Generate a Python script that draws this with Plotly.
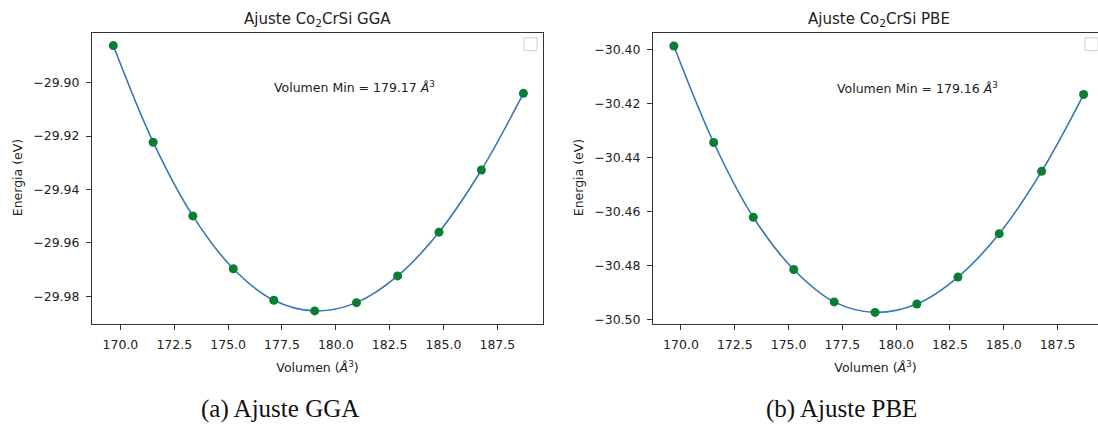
import plotly.graph_objects as go

# ---- data ----
volumen = [169.67, 171.52, 173.36, 175.24, 177.12, 179.02, 180.96, 182.87, 184.79, 186.76, 188.71]
energia_gga = [-29.8861, -29.9223, -29.9499, -29.9697, -29.9815, -29.9855, -29.9824, -29.9724, -29.9560, -29.9327, -29.9040]
energia_pbe = [-30.3986, -30.4344, -30.4621, -30.4815, -30.4935, -30.4974, -30.4943, -30.4843, -30.4682, -30.4451, -30.4166]

titulos = ["Ajuste Co<sub>2</sub>CrSi GGA", "Ajuste Co<sub>2</sub>CrSi PBE"]
anotaciones = ["Volumen Min = 179.17 <i>Å</i><sup>3</sup>", "Volumen Min = 179.16 <i>Å</i><sup>3</sup>"]
captions = ["(a) Ajuste GGA", "(b) Ajuste PBE"]
xlabel = "Volumen (<i>Å</i><sup>3</sup>)"
ylabel = "Energia (eV)"

W, H = 1098, 428
def px(x): return x / W
def py(y): return 1 - y / H

LINE = "#3478b4"
DOT = "#0a7e32"
AX = "#333333"
FONT = "DejaVu Sans"

fig = go.Figure()
for i, (ys, xa, ya) in enumerate([(energia_gga, "x", "y"), (energia_pbe, "x2", "y2")]):
    fig.add_trace(go.Scatter(x=volumen, y=ys, mode="lines", xaxis=xa, yaxis=ya,
                             line=dict(color=LINE, width=1.6, shape="spline", smoothing=1.0),
                             showlegend=False, hoverinfo="skip"))
    fig.add_trace(go.Scatter(x=volumen, y=ys, mode="markers", xaxis=xa, yaxis=ya,
                             marker=dict(color=DOT, size=9), showlegend=False))

common_x = dict(showline=True, linecolor=AX, linewidth=1, mirror=True, ticks="outside",
                ticklen=5, tickcolor=AX, showgrid=False, zeroline=False, dtick=2.5, tick0=170,
                tickformat=".1f", tickfont=dict(family=FONT, size=12.5, color="#222"),
                ticklabelstandoff=4,
                title=dict(text=xlabel, font=dict(family=FONT, size=12.5, color="#222"), standoff=12))
common_y = dict(showline=True, linecolor=AX, linewidth=1, ticks="outside", ticklen=5,
                tickcolor=AX, showgrid=False, zeroline=False, dtick=0.02, tick0=0,
                tickformat=".2f", tickfont=dict(family=FONT, size=12.5, color="#222"),
                ticklabelstandoff=4)

y_dom = [py(326), py(33)]
fig.update_layout(
    width=W, height=H, autosize=False,
    margin=dict(l=0, r=0, t=0, b=0),
    paper_bgcolor="white", plot_bgcolor="white",
    xaxis=dict(domain=[px(92), px(543)], range=[168.68, 189.62], anchor="y", **common_x),
    yaxis=dict(domain=y_dom, range=[-29.9903, -29.8813], anchor="x", mirror=True, **common_y),
    xaxis2=dict(domain=[px(653), 1.0], range=[168.70, 189.38], anchor="y2", **common_x),
    yaxis2=dict(domain=y_dom, range=[-30.5016, -30.3937], anchor="x2", mirror=False, **common_y),
)

ann = []
# titles
for t, cx in zip(titulos, [317.5, 878.5]):
    ann.append(dict(text=t, x=px(cx), y=py(20), xref="paper", yref="paper", showarrow=False,
                    xanchor="center", yanchor="middle", font=dict(family=FONT, size=15, color="#222")))
# y-axis titles
for cx in [17, 578]:
    ann.append(dict(text=ylabel, x=px(cx), y=py(179.5), xref="paper", yref="paper", showarrow=False,
                    textangle=-90, xanchor="center", yanchor="middle",
                    font=dict(family=FONT, size=12.5, color="#222")))
# "Volumen Min" annotations
ann.append(dict(text=anotaciones[0], x=177.05, y=-29.9018, xref="x", yref="y", showarrow=False,
                xanchor="left", yanchor="middle", font=dict(family=FONT, size=12.5, color="#222")))
ann.append(dict(text=anotaciones[1], x=177.15, y=-30.4140, xref="x2", yref="y2", showarrow=False,
                xanchor="left", yanchor="middle", font=dict(family=FONT, size=12.5, color="#222")))
# captions
for c, cx in zip(captions, [280, 841]):
    ann.append(dict(text=c, x=px(cx), y=py(412), xref="paper", yref="paper", showarrow=False,
                    xanchor="center", yanchor="middle",
                    font=dict(family="Liberation Serif", size=25, color="#111")))
fig.update_layout(annotations=ann)

# empty legend boxes
shapes = []
for x0 in [524, 1085]:
    shapes.append(dict(type="rect", xref="paper", yref="paper", x0=px(x0), x1=px(x0 + 13),
                       y0=py(51), y1=py(38), line=dict(color="#cfcfcf", width=1), fillcolor="white"))
fig.update_layout(shapes=shapes)

fig.write_html("out.html")
